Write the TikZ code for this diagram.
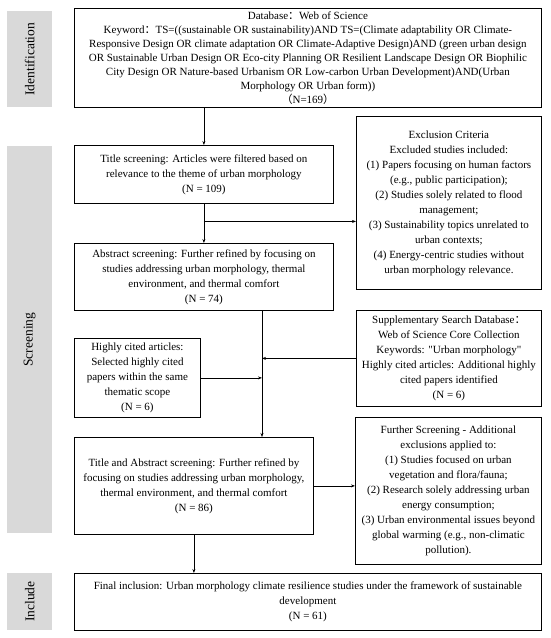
\documentclass[tikz,border=0pt]{standalone}
\usepackage{fontspec}
\setmainfont{Liberation Serif}
\newfontfamily\cjk{Noto Sans CJK SC}
\usepackage{tikz}
\usetikzlibrary{arrows.meta,calc}
\usepackage{xcolor}
\definecolor{StageGray}{HTML}{D9D9D9}
\tikzset{
  box/.style={draw, line width=0.8pt, anchor=north west, align=center, inner sep=0pt,
    font=\fontsize{11}{15}\selectfont},
  stage/.style={fill=StageGray, anchor=north west, inner sep=0pt, minimum width=45,
    font=\fontsize{13.5}{16}\selectfont},
  flow/.style={-{Stealth[length=4pt,width=3pt]}, line width=0.8pt}
}

\begin{document}
\begin{tikzpicture}[x=1pt,y=-1pt]
    \useasboundingbox (0,0) rectangle (550,638);
    \foreach \name/\y/\h/\txt in {ident/11/96/Identification,screen/146/387/Screening,incl/573/57/Include} {
     \node[stage, minimum height=\h] (\name) at (7,\y) {\rotatebox{90}{\txt}};
    }
    \node[box, font=\fontsize{11}{14}\selectfont, minimum width=467, minimum height=99] (db) at (74,8)
      {Database{\cjk ：}Web of Science\\
       Keyword{\cjk ：}TS=((sustainable OR sustainability)AND TS=(Climate adaptability OR Climate-\\
       Responsive Design OR climate adaptation OR Climate-Adaptive Design)AND (green urban design\\
       OR Sustainable Urban Design OR Eco-city Planning OR Resilient Landscape Design OR Biophilic\\
       City Design OR Nature-based Urbanism OR Low-carbon Urban Development)AND(Urban\\
       Morphology OR Urban form))\\
       {\cjk （}N=169{\cjk ）}};
    \node[box, minimum width=259, minimum height=58] (title) at (74,145)
      {Title screening: Articles were filtered based on\\
       relevance to the theme of urban morphology\\
       (N = 109)};
    \node[box, minimum width=185, minimum height=173] (excl) at (356,116)
      {Exclusion Criteria\\
       Excluded studies included:\\
       (1) Papers focusing on human factors\\
       (e.g., public participation);\\
       (2) Studies solely related to flood\\
       management;\\
       (3) Sustainability topics unrelated to\\
       urban contexts;\\
       (4) Energy-centric studies without\\
       urban morphology relevance.};
    \node[box, minimum width=259, minimum height=67] (abstr) at (74,243)
      {Abstract screening: Further refined by focusing on\\
       studies addressing urban morphology, thermal\\
       environment, and thermal comfort\\
       (N = 74)};
    \node[box, minimum width=126, minimum height=79] (cited) at (74,338)
      {Highly cited articles:\\
       Selected highly cited\\
       papers within the same\\
       thematic scope\\
       (N = 6)};
    \node[box, minimum width=185, minimum height=96] (supp) at (356,310)
      {Supplementary Search Database{\cjk ：}\\
       Web of Science Core Collection\\
       Keywords: \textquotedbl Urban morphology\textquotedbl\\
       Highly cited articles: Additional highly\\
       cited papers identified\\
       (N = 6)};
    \node[box, minimum width=239, minimum height=97] (tiab) at (74,437)
      {Title and Abstract screening: Further refined by\\
       focusing on studies addressing urban morphology,\\
       thermal environment, and thermal comfort\\
       (N = 86)};
    \node[box, minimum width=186, minimum height=147] (further) at (355,417)
      {Further Screening - Additional\\
       exclusions applied to:\\
       (1) Studies focused on urban\\
       vegetation and flora/fauna;\\
       (2) Research solely addressing urban\\
       energy consumption;\\
       (3) Urban environmental issues beyond\\
       global warming (e.g., non-climatic\\
       pollution).};
    \node[box, minimum width=467, minimum height=57] (final) at (74,573)
      {Final inclusion: Urban morphology climate resilience studies under the framework of sustainable\\
       development\\
       (N = 61)};
    \coordinate (j) at (262,0);
    \coordinate (fork) at ($(title.south)!0.45!(abstr.north)$);
    \draw[flow] (db.south -| title.north) -- (title.north);
    \draw[flow] (title.south) -- (abstr.north);
    \draw[flow] (fork) -- (fork -| excl.west);
    \draw[flow] (abstr.south -| j) -- (tiab.north -| j);
    \draw[flow] (supp.west) -- (supp.west -| j);
    \draw[flow] (cited.east) -- (cited.east -| j);
    \draw[flow] (tiab.east) -- (tiab.east -| further.west);
    \draw[flow] (tiab.south) -- (final.north -| tiab.south);
\end{tikzpicture}
\end{document}
